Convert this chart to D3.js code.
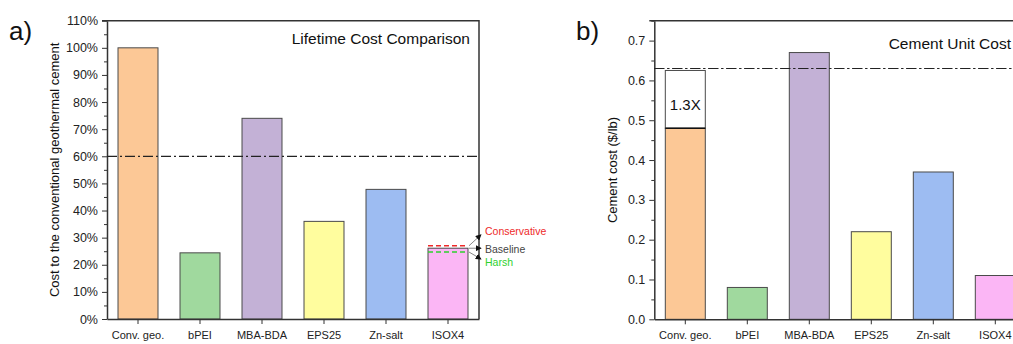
<!DOCTYPE html>
<html>
<head>
<meta charset="utf-8">
<script src="https://cdn.jsdelivr.net/npm/d3@7/dist/d3.min.js"></script>
<style>
  body { margin: 0; background: #fff; }
  svg { display: block; }
  svg text { font-family: "Liberation Sans", Arial, sans-serif; }
</style>
</head>
<body>
<svg id="chart" width="1013" height="344"></svg>
<script>

// ----------------------------------------------------------------
// Data
// ----------------------------------------------------------------

const categories = ["Conv. geo.", "bPEI", "MBA-BDA", "EPS25", "Zn-salt", "ISOX4"];

// a) lifetime cost, % of the conventional geothermal cement
const lifetimeCost = [100, 24.4, 74, 36, 47.8, 26.1];
const lifetimeTicks = [0, 10, 20, 30, 40, 50, 60, 70, 80, 90, 100, 110];
const lifetimeThreshold = 60;
// ISOX4 scenarios
const scenarioNames = ["Conservative", "Baseline", "Harsh"];
const scenarioCost = [27, 26.1, 24.7];

// b) cement unit cost, $/lb
const unitCost = [0.48, 0.08, 0.67, 0.22, 0.37, 0.11];
const unitTicks = [0, 0.1, 0.2, 0.3, 0.4, 0.5, 0.6, 0.7];
const unitThreshold = 0.63;
const convUpperCost = 0.625;   // 1.3X of the conventional cement
const convUpperLabel = "1.3X";

// ----------------------------------------------------------------
// Styles
// ----------------------------------------------------------------

const barColors = ["#FCC896", "#A0D99E", "#C3B1D6", "#FFFD9E", "#9DBCF2", "#FBB6F5"];
const scenarioColors = ["#ee2a2a", "#444444", "#2ed12e"];
const axisColor = "#333";
const fontFamily = "Liberation Sans, Arial, sans-serif";

const svg = d3.select("#chart");

svg.append("defs").append("marker")
  .attr("id", "arrow")
  .attr("viewBox", "0 -4 8 8")
  .attr("refX", 7)
  .attr("refY", 0)
  .attr("markerWidth", 6)
  .attr("markerHeight", 6)
  .attr("markerUnits", "userSpaceOnUse")
  .attr("orient", "auto")
  .append("path")
  .attr("d", "M0,-4L8,0L0,4Z")
  .attr("fill", "#111");

// ----------------------------------------------------------------
// Panel drawing
// ----------------------------------------------------------------

function drawPanel (cfg) {
  const g = svg.append("g");

  const x = d3.scaleBand()
    .domain(categories)
    .range([cfg.left, cfg.right])
    .paddingInner(0.355)
    .paddingOuter(0.1775);

  const y = d3.scaleLinear()
    .domain(cfg.yDomain)
    .range([cfg.bottom, cfg.top]);

  // bars
  g.selectAll("rect.bar")
    .data(cfg.values)
    .join("rect")
    .attr("class", "bar")
    .attr("x", (d, i) => x(categories[i]))
    .attr("y", d => y(d))
    .attr("width", x.bandwidth())
    .attr("height", d => y(0) - y(d))
    .attr("fill", (d, i) => barColors[i])
    .attr("stroke", "#4a4a4a")
    .attr("stroke-width", 1);

  // minor ticks
  g.append("g")
    .attr("transform", "translate(" + cfg.left + ",0)")
    .call(d3.axisLeft(y).tickValues(cfg.minorTicks).tickSize(3).tickFormat(""))
    .call(a => a.select(".domain").remove())
    .call(a => a.selectAll("line").attr("stroke", axisColor).attr("stroke-width", 1));

  // y axis
  g.append("g")
    .attr("transform", "translate(" + cfg.left + ",0)")
    .call(d3.axisLeft(y).tickValues(cfg.ticks).tickSize(5).tickSizeOuter(0).tickPadding(4).tickFormat(cfg.format))
    .attr("font-family", fontFamily)
    .attr("font-size", 12.5)
    .call(a => a.select(".domain").attr("stroke", axisColor).attr("stroke-width", 1.5))
    .call(a => a.selectAll("line").attr("stroke", axisColor).attr("stroke-width", 1))
    .call(a => a.selectAll("text").attr("fill", "#222"));

  // x axis
  g.append("g")
    .attr("transform", "translate(0," + cfg.bottom + ")")
    .call(d3.axisBottom(x).tickSize(5).tickSizeOuter(0).tickPadding(7))
    .attr("font-family", fontFamily)
    .attr("font-size", 11)
    .call(a => a.select(".domain").attr("stroke", axisColor).attr("stroke-width", 1.5))
    .call(a => a.selectAll("line").attr("stroke", axisColor).attr("stroke-width", 1))
    .call(a => a.selectAll("text").attr("fill", "#222"));

  // frame top and right
  g.append("path")
    .attr("d", "M" + (cfg.left - 5) + "," + cfg.top + "H" + cfg.right + "V" + cfg.bottom)
    .attr("fill", "none")
    .attr("stroke", axisColor)
    .attr("stroke-width", 1.5);

  // threshold dash-dot line
  g.append("line")
    .attr("x1", cfg.left)
    .attr("x2", cfg.right)
    .attr("y1", y(cfg.threshold))
    .attr("y2", y(cfg.threshold))
    .attr("stroke", "#222")
    .attr("stroke-width", 1.2)
    .attr("stroke-dasharray", "10,3,2,3");

  // title in frame
  g.append("text")
    .attr("x", cfg.titleX)
    .attr("y", cfg.titleY)
    .attr("text-anchor", "end")
    .attr("font-size", 15.5)
    .attr("fill", "#111")
    .text(cfg.title);

  // y label
  g.append("text")
    .attr("transform", "translate(" + cfg.yLabelX + "," + ((cfg.top + cfg.bottom) / 2) + ") rotate(-90)")
    .attr("text-anchor", "middle")
    .attr("font-size", 13)
    .attr("fill", "#111")
    .text(cfg.yLabel);

  // panel letter
  g.append("text")
    .attr("x", cfg.letterX)
    .attr("y", 40)
    .attr("font-size", 26)
    .attr("fill", "#111")
    .text(cfg.letter);

  return { g: g, x: x, y: y };
}

// ----------------------------------------------------------------
// a) Lifetime Cost Comparison
// ----------------------------------------------------------------

const panelA = drawPanel({
  left: 107, right: 479, top: 20.7, bottom: 319,
  values: lifetimeCost,
  yDomain: [0, 110],
  ticks: lifetimeTicks,
  minorTicks: lifetimeTicks.slice(0, -1).map(d => d + 5),
  format: d => d + "%",
  threshold: lifetimeThreshold,
  title: "Lifetime Cost Comparison",
  titleX: 470,
  titleY: 44,
  yLabel: "Cost to the conventional geothermal cement",
  yLabelX: 59,
  letter: "a)",
  letterX: 9
});

(function () {
  const g = panelA.g, x = panelA.x, y = panelA.y;
  const cat = categories[5];
  const x0 = x(cat), x1 = x(cat) + x.bandwidth();
  // dashed scenario lines (the baseline is the bar top itself)
  [0, 2].forEach(function (i) {
    g.append("line")
      .attr("x1", x0).attr("x2", x1)
      .attr("y1", y(scenarioCost[i])).attr("y2", y(scenarioCost[i]))
      .attr("stroke", scenarioColors[i])
      .attr("stroke-width", 1.5)
      .attr("stroke-dasharray", "5,3");
  });
  // arrows and labels
  const headDy = [-11, 0, 7];
  const textDy = [-14, 1, 10];
  scenarioNames.forEach(function (name, i) {
    const yy = y(scenarioCost[i]);
    g.append("line")
      .attr("x1", x1 + 1).attr("y1", yy)
      .attr("x2", x1 + 13).attr("y2", yy + headDy[i])
      .attr("stroke", "#888")
      .attr("stroke-width", 1)
      .attr("marker-end", "url(#arrow)");
    g.append("text")
      .attr("x", x1 + 17)
      .attr("y", yy + textDy[i])
      .attr("dy", "0.35em")
      .attr("font-size", 10.5)
      .attr("fill", scenarioColors[i])
      .text(name);
  });
})();

// ----------------------------------------------------------------
// b) Cement Unit Cost
// ----------------------------------------------------------------

const panelB = drawPanel({
  left: 654.3, right: 1026.3, top: 20.7, bottom: 319.3,
  values: unitCost,
  yDomain: [0, 0.75],
  ticks: unitTicks,
  minorTicks: unitTicks.map(d => d + 0.05),
  format: d3.format(".1f"),
  threshold: unitThreshold,
  title: "Cement Unit Cost",
  titleX: 1011,
  titleY: 49,
  yLabel: "Cement cost ($/lb)",
  yLabelX: 617,
  letter: "b)",
  letterX: 576
});

(function () {
  const g = panelB.g, x = panelB.x, y = panelB.y;
  const cat = categories[0];
  // white upper part of the conventional bar
  g.append("rect")
    .attr("x", x(cat))
    .attr("y", y(convUpperCost))
    .attr("width", x.bandwidth())
    .attr("height", y(unitCost[0]) - y(convUpperCost))
    .attr("fill", "#fff")
    .attr("stroke", "#4a4a4a")
    .attr("stroke-width", 1);
  g.append("line")
    .attr("x1", x(cat)).attr("x2", x(cat) + x.bandwidth())
    .attr("y1", y(unitCost[0])).attr("y2", y(unitCost[0]))
    .attr("stroke", "#111")
    .attr("stroke-width", 1.5);
  g.append("text")
    .attr("x", x(cat) + x.bandwidth() / 2)
    .attr("y", (y(convUpperCost) + y(unitCost[0])) / 2 + 5)
    .attr("dy", "0.35em")
    .attr("text-anchor", "middle")
    .attr("font-size", 15)
    .attr("fill", "#111")
    .text(convUpperLabel);
  // redraw threshold over the white box
  g.append("line")
    .attr("x1", x.range()[0]).attr("x2", x.range()[1])
    .attr("y1", y(unitThreshold)).attr("y2", y(unitThreshold))
    .attr("stroke", "#222")
    .attr("stroke-width", 1.2)
    .attr("stroke-dasharray", "10,3,2,3");
})();

</script>
</body>
</html>
